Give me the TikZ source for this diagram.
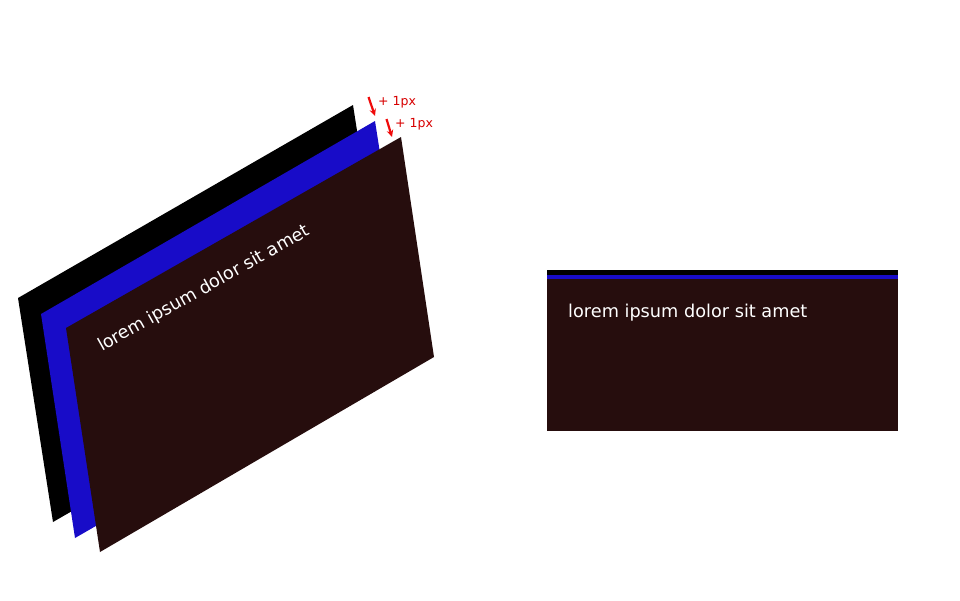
\documentclass[tikz,border=0pt]{standalone}
\usepackage{fontspec}
\setmainfont{DejaVu Sans}
\usetikzlibrary{arrows.meta}
\definecolor{layblack}{RGB}{0,0,0}
\definecolor{layblue}{RGB}{24,12,200}
\definecolor{laydark}{RGB}{38,13,13}
\definecolor{markred}{RGB}{240,10,10}
\definecolor{labred}{RGB}{215,0,0}
\tikzset{
  layer/.style={draw=none},
  lorem/.style={text=white, font=\fontsize{17.7}{20}\selectfont, inner sep=0pt},
  pxlabel/.style={text=labred, font=\fontsize{12.5}{15}\selectfont, inner sep=0pt, anchor=west},
  pxarrow/.style={draw=markred, line width=2.2pt, -{Stealth[length=7pt,width=6.5pt]}}
}
\begin{document}
\begin{tikzpicture}[x=1pt,y=-1pt]
\useasboundingbox (0,0) rectangle (960,600);
% left stacked layers
\fill[layblack] (18,298) -- (353,105) -- (388,329) -- (53,522) -- cycle;
\fill[layblue]  (41,314) -- (375,121) -- (410,345) -- (75,538) -- cycle;
\fill[laydark]  (66,328) -- (401,137) -- (434,357) -- (100,552) -- cycle;
\node[lorem, anchor=base west, rotate=29.4] (ltext) at (102,352) {lorem ipsum dolor sit amet};
% offset markers
\coordinate (a1s) at (368.5,97);  \coordinate (a1e) at (375,116);
\coordinate (a2s) at (386.5,119); \coordinate (a2e) at (392,137);
\draw[pxarrow] (a1s) -- (a1e);
\draw[pxarrow] (a2s) -- (a2e);
\node[pxlabel] (l1) at (378,102) {+ 1px};
\node[pxlabel] (l2) at (395,124) {+ 1px};
% right flat view
\fill[layblack] (547,270.3) rectangle (898,274.5);
\fill[layblue]  (547,274.5) rectangle (898,278.7);
\fill[laydark]  (547,278.7) rectangle (898,431);
\node[lorem, anchor=base west] (rtext) at (568,317) {lorem ipsum dolor sit amet};
\end{tikzpicture}
\end{document}
